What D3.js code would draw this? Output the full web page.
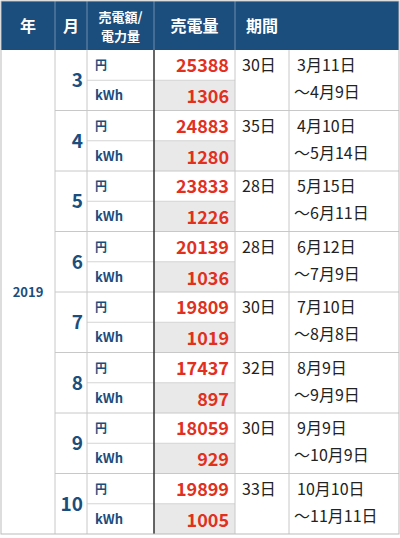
<!DOCTYPE html><html><head><meta charset="utf-8"><script src="https://cdn.jsdelivr.net/npm/d3@7"></script>
<style>body{margin:0;background:#fff}</style></head><body><svg id="c" width="400" height="538"></svg><script>
const headers=["年","月","売電額/\n電力量","売電量","期間"];
const year="2019";
const months=["3","4","5","6","7","8","9","10"];
const yen=[25388,24883,23833,20139,19809,17437,18059,19899];
const kwh=[1306,1280,1226,1036,1019,897,929,1005];
const days=["30日","35日","28日","28日","30日","32日","30日","33日"];
const periodA=["3月11日","4月10日","5月15日","6月12日","7月10日","8月9日","9月9日","10月10日"];
const periodB=["～4月9日","～5月14日","～6月11日","～7月9日","～8月8日","～9月9日","～10月9日","～11月11日"];
const svg=d3.select("#c");const F="'Noto Sans CJK JP',sans-serif";
const colX=[1,55,87,154,235,289,399];
const topY=50,bh=60.5;
const y=d3.scaleLinear().domain([0,months.length]).range([topY,topY+bh*months.length]);
const blue="#1b4d7d",red="#e2301f";
svg.append("rect").attr("x",1).attr("y",1).attr("width",398).attr("height",49).attr("fill",blue);
headers.forEach((h,i)=>{const cx=(colX[i]+colX[i+1])/2;const lines=h.split("\n");
 lines.forEach((l,j)=>svg.append("text").attr("x",cx).attr("y",lines.length>1?22+j*19:32).attr("text-anchor","middle").attr("fill","#fff").attr("font-family",F).attr("font-weight","bold").attr("font-size",lines.length>1?13:16).text(l));});
for(let i=1;i<5;i++)svg.append("line").attr("x1",colX[i]).attr("x2",colX[i]).attr("y1",1).attr("y2",50).attr("stroke","#6f8fae");
months.forEach((m,i)=>{const y0=y(i),ym=y0+bh/2;
 svg.append("rect").attr("x",colX[3]).attr("y",ym).attr("width",colX[4]-colX[3]).attr("height",bh/2).attr("fill","#e9e9e9");
 svg.append("line").attr("x1",colX[2]).attr("x2",colX[4]).attr("y1",ym).attr("y2",ym).attr("stroke","#d4d4d4");
 if(i>0)svg.append("line").attr("x1",colX[1]).attr("x2",399).attr("y1",y0).attr("y2",y0).attr("stroke","#c8c8c8");
 svg.append("text").attr("x",colX[2]-4).attr("y",ym+7).attr("text-anchor","end").attr("fill",blue).attr("font-family",F).attr("font-weight","bold").attr("font-size",19).text(m);
 svg.append("text").attr("x",95).attr("y",y0+20).attr("fill",blue).attr("font-family",F).attr("font-weight","bold").attr("font-size",12).text("円");
 svg.append("text").attr("x",95).attr("y",ym+20).attr("fill",blue).attr("font-family",F).attr("font-weight","bold").attr("font-size",13).text("kWh");
 svg.append("text").attr("x",colX[4]-6).attr("y",y0+22).attr("text-anchor","end").attr("fill",red).attr("font-family",F).attr("font-weight","bold").attr("font-size",18).text(yen[i]);
 svg.append("text").attr("x",colX[4]-6).attr("y",ym+23).attr("text-anchor","end").attr("fill",red).attr("font-family",F).attr("font-weight","bold").attr("font-size",18).text(kwh[i]);
 svg.append("text").attr("x",242).attr("y",y0+21).attr("fill","#222").attr("font-family",F).attr("font-size",16).text(days[i]);
 svg.append("text").attr("x",297).attr("y",y0+21).attr("fill","#222").attr("font-family",F).attr("font-size",16).text(periodA[i]);
 svg.append("text").attr("x",294).attr("y",y0+48).attr("fill","#222").attr("font-family",F).attr("font-size",16).text(periodB[i]);
});
const bot=y(months.length);
[1,2,4,5].forEach(i=>svg.append("line").attr("x1",colX[i]).attr("x2",colX[i]).attr("y1",50).attr("y2",bot).attr("stroke","#c8c8c8"));
svg.append("line").attr("x1",colX[3]).attr("x2",colX[3]).attr("y1",50).attr("y2",bot).attr("stroke","#333").attr("stroke-width",1.5);
svg.append("rect").attr("x",1).attr("y",1).attr("width",398).attr("height",bot-1).attr("fill","none").attr("stroke","#bbb");
svg.append("text").attr("x",28).attr("y",(50+bot)/2+5).attr("text-anchor","middle").attr("fill",blue).attr("font-family",F).attr("font-weight","bold").attr("font-size",13).text(year);
</script></body></html>
